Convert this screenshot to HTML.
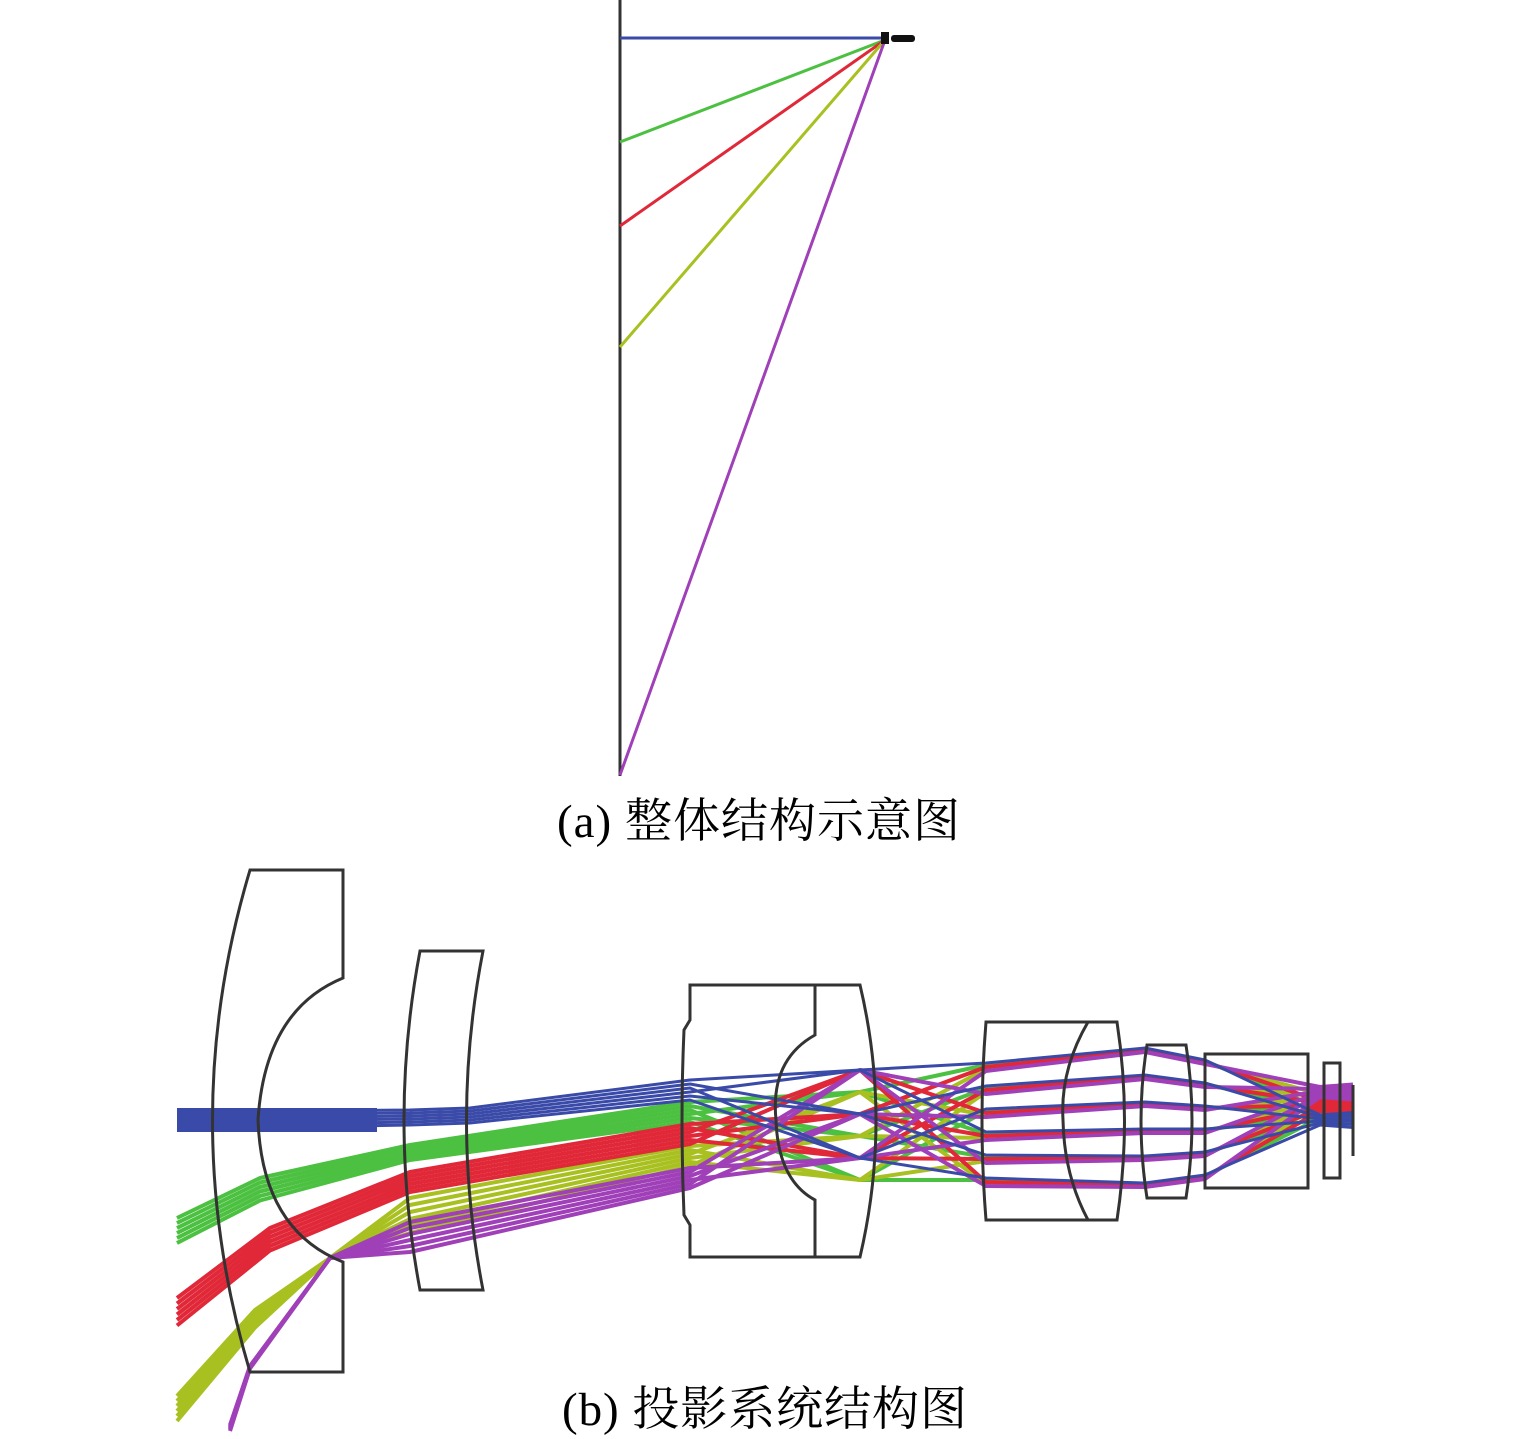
<!DOCTYPE html>
<html><head><meta charset="utf-8"><style>
html,body{margin:0;padding:0;background:#fff;}
svg{display:block;}
text{font-family:"Liberation Serif","Noto Serif CJK SC",serif;}
</style></head><body>
<svg id="s" width="1535" height="1439" viewBox="0 0 1535 1439" xmlns="http://www.w3.org/2000/svg">
<rect width="1535" height="1439" fill="#fff"/>
<line x1="620" y1="0" x2="620" y2="776" stroke="#333" stroke-width="3"/>
<g stroke-width="3" fill="none">
<line x1="620" y1="38" x2="885" y2="38" stroke="#3a4aa8"/>
<line x1="620" y1="142" x2="885" y2="40" stroke="#4cc040"/>
<line x1="620" y1="226" x2="885" y2="40" stroke="#e02838"/>
<line x1="620" y1="347" x2="885" y2="40" stroke="#a8c020"/>
<line x1="620" y1="775" x2="885" y2="40" stroke="#a040b8"/>
</g>
<rect x="881" y="32" width="8" height="12" fill="#111"/>
<rect x="891" y="35" width="24" height="7" rx="3" fill="#111"/>
<text x="557" y="837" font-size="47" textLength="403" lengthAdjust="spacing">(a) 整体结构示意图</text>
<text x="562" y="1425" font-size="47" textLength="405" lengthAdjust="spacing">(b) 投影系统结构图</text>
<g id="rays" fill="none" stroke-width="3" stroke-linejoin="round"></g>
<rect x="177" y="1108" width="200" height="24" fill="#3a4aa8"/>
<g fill="none" stroke="#333" stroke-width="3">
<path d="M250,870 H343 V978 Q265,1010 258,1120 Q262,1230 343,1262 V1372 H250 Q175,1120 250,870 Z"/>
<path d="M420,951 H483 Q450,1120 483,1290 H420 Q388,1120 420,951 Z"/>
<path d="M690,985 H860 Q892,1120 860,1257 H690 V1225 L684,1215 Q680,1120 684,1030 L690,1020 Z"/>
<path d="M815,985 V1035 Q770,1060 776,1120 Q778,1180 815,1200 V1257"/>
<path d="M986,1022 H1117 Q1132,1120 1117,1220 H986 Q978,1120 986,1022 Z"/>
<path d="M1088,1022 Q1060,1070 1063,1120 Q1064,1175 1088,1220"/>
<path d="M1147,1045 H1186 Q1198,1120 1186,1198 H1147 Q1135,1120 1147,1045 Z"/>
<rect x="1205" y="1054" width="103" height="134"/>
<rect x="1324" y="1063" width="16" height="115"/>
<line x1="1353" y1="1085" x2="1353" y2="1156"/>
</g>
</svg>
<script>
var g=document.getElementById('rays');
var cols=['#3a4aa8','#4cc040','#e02838','#a8c020','#a040b8'];
var order=[1,3,2,4,0];
order.forEach(function(k){
 var c=cols[k];
 for(var i=0;i<6;i++){
  var pts=[];
  if(k==0){pts=[[177,1112+i*3.5],[410,1110+i*3],[470,1108+i*3]];}
  if(k==1){pts=[[177,1218+i*5],[260,1178+i*4.5],[410,1145+i*3]];}
  if(k==2){pts=[[177,1298+i*5.5],[270,1228+i*4.5],[410,1172+i*4]];}
  if(k==3){pts=[[177,1396+i*5],[255,1310+i*3.5],[330,1258],[410,1198+i*7]];}
  if(k==4){pts=[[230,1425+i*1.2],[250,1366+i*0.5],[330,1258],[410,1222+i*6]];}
  pts.push([690,1080+k*22+i*4]);
  pts.push([860,1070+((i*2+k)%6)*22]);
  pts.push([986,1063+i*23+k*2]);
  pts.push([1145,1048+i*27+k*1]);
  pts.push([1205,1060+i*23+k*1]);
  var fy=1120-k*7;
  pts.push([1320,fy+(i-2.5)*2]);
  pts.push([1353,fy+(i-2.5)*3]);
  var d='M'+pts.map(function(p){return p[0]+','+p[1]}).join(' L');
  var p=document.createElementNS('http://www.w3.org/2000/svg','path');
  p.setAttribute('d',d);p.setAttribute('stroke',c);
  p.setAttribute('stroke-width', k==0?3:4);
  g.appendChild(p);
 }
});
</script>
</body></html>
